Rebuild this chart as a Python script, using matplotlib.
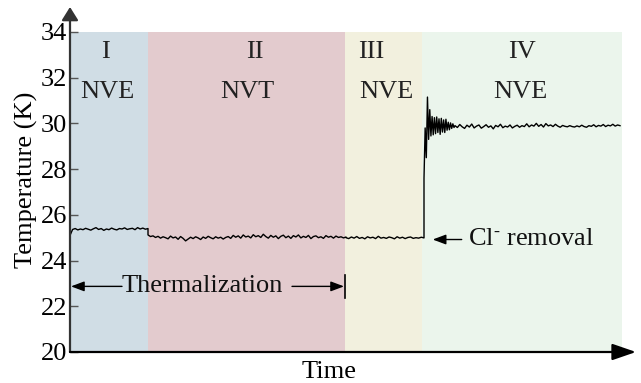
import matplotlib
matplotlib.use("Agg")
import matplotlib.pyplot as plt
import numpy as np

plt.rcParams["font.family"] = ["Liberation Serif", "DejaVu Serif"]
plt.rcParams["mathtext.fontset"] = "custom"
plt.rcParams["mathtext.rm"] = "Liberation Serif"
plt.rcParams["mathtext.default"] = "regular"

# phase boundaries (time, arbitrary units)
phase_bounds = [0, 78, 275, 352, 552]
phase_roman = ["I", "II", "III", "IV"]
phase_mode = ["NVE", "NVT", "NVE", "NVE"]
phase_colors = ["#d0dde5", "#e3cbce", "#f2f0de", "#ebf5ec"]

# temperature trace, one list per stretch
temp_I = [25.10, 25.36, 25.40, 25.34, 25.38, 25.35, 25.41, 25.37, 25.33, 25.39,
          25.44, 25.36, 25.40, 25.32, 25.38, 25.35, 25.42, 25.37, 25.34, 25.40,
          25.38, 25.43, 25.36, 25.39, 25.41, 25.35, 25.44, 25.38, 25.42, 25.37,
          25.40]
temp_II = [25.12, 25.05, 25.08, 25.01, 25.06, 24.98, 25.04, 25.00, 24.95, 25.07,
           24.99, 25.03, 24.93, 25.05, 24.97, 24.86, 24.94, 25.02, 24.96, 25.04,
           24.99, 24.92, 25.03, 24.97, 25.06, 25.00, 24.95, 25.04, 24.98, 25.02,
           24.94, 25.01, 25.05, 24.97, 25.10, 25.02, 25.08, 24.98, 25.12, 25.03,
           25.07, 24.99, 25.13, 25.04, 25.09, 25.01, 25.15, 25.05, 24.98, 25.10,
           25.02, 25.08, 24.96, 25.06, 25.11, 25.00, 25.07, 24.97, 25.09, 25.03,
           25.12, 24.99, 25.06, 25.01, 25.10, 24.96, 25.05, 25.08, 25.00, 25.04,
           24.97, 25.09, 25.02, 25.06, 24.98, 25.07, 25.01, 25.04, 24.99, 25.03]
temp_III = [25.00, 24.96, 25.03, 24.98, 25.05, 24.97, 25.01, 24.95, 25.04, 24.99,
            25.02, 24.96, 25.06, 24.98, 25.01, 24.97, 25.03, 25.00, 24.95, 25.04,
            24.98, 25.02, 24.96, 25.01, 25.03, 24.97, 25.00, 24.98, 25.02, 24.99]
temp_ring = [27.60, 29.80, 28.50, 31.15, 29.30, 30.60, 29.45, 30.30, 29.50, 30.25,
             29.55, 30.28, 29.60, 30.20, 29.52, 30.22, 29.62, 30.15, 29.60, 30.18,
             29.70, 30.05, 29.72, 30.02, 29.78, 29.98, 29.82]
temp_IV = [29.90, 29.82, 29.95, 29.85, 29.78, 29.92, 29.84, 29.97, 29.80, 29.88,
           29.93, 29.79, 29.86, 29.94, 29.83, 29.89, 29.76, 29.91, 29.85, 29.96,
           29.81, 29.88, 29.84, 29.93, 29.80, 29.87, 29.92, 29.83, 29.90, 29.86,
           29.98, 29.85, 29.93, 29.88, 30.00, 29.87, 29.95, 29.84, 29.99, 29.89,
           29.93, 29.86, 29.96, 29.88, 29.83, 29.91, 29.87, 29.85, 29.90, 29.86,
           29.84, 29.89, 29.85, 29.92, 29.86, 29.83, 29.90, 29.87, 29.94, 29.85,
           29.91, 29.88, 29.95, 29.86, 29.92, 29.89, 29.96, 29.88, 29.93, 29.90]
# time spans of each stretch of the trace
trace_spans = [(0, 78), (78, 276), (276, 354), (354, 384), (385, 550)]
removal_time = 354

yticks = [20, 22, 24, 26, 28, 30, 32, 34]

FS = 19

fig = plt.figure(figsize=(6.41, 3.83), dpi=100)
ax = fig.add_axes([70 / 641, 31 / 383, 566 / 641, 345 / 383])
ax.set_xlim(0, 566)
ax.set_ylim(20, 35.09)

for i in range(4):
    ax.fill_between([phase_bounds[i], phase_bounds[i + 1]], 20, 34,
                    color=phase_colors[i], lw=0, zorder=0)

roman_x = [35, 185, 301, 452]
mode_x = [37, 177, 316, 450]
for i in range(4):
    ax.text(roman_x[i], 33.1, phase_roman[i], ha="center", va="center",
            fontsize=FS, color="#222222")
    ax.text(mode_x[i], 31.36, phase_mode[i], ha="center", va="center",
            fontsize=FS, color="#222222")

t_all, T_all = [], []
for seg, (a, b) in zip([temp_I, temp_II, temp_III, temp_ring, temp_IV], trace_spans):
    t_all.extend(np.linspace(a, b, len(seg)))
    T_all.extend(seg)
ax.plot(t_all, T_all, color="black", lw=1.0, zorder=3)

# axes with arrows
for s in ax.spines.values():
    s.set_visible(False)
ax.annotate("", xy=(0, 1), xytext=(0, 0), xycoords="axes fraction",
            arrowprops=dict(arrowstyle="-|>,head_length=0.8,head_width=0.5",
                            color="#333333", lw=1.6, shrinkA=0, shrinkB=0))
ax.annotate("", xy=(1, 0), xytext=(0, 0), xycoords="axes fraction",
            arrowprops=dict(arrowstyle="-|>,head_length=1.45,head_width=0.5",
                            color="black", lw=1.6, shrinkA=0, shrinkB=0))

ax.set_yticks(yticks)
ax.set_xticks([])
ax.tick_params(axis="y", direction="in", length=6, width=1, color="#555555",
               labelsize=FS, pad=2)
ax.set_ylabel("Temperature (K)", fontsize=FS, labelpad=2)
ax.set_xlabel("Time", fontsize=FS)
ax.xaxis.set_label_coords(0.4585, -0.027)

# thermalization annotation
yth = 22.87
ax.text(132.5, yth, "Thermalization", ha="center", va="center", fontsize=FS,
        color="#111111")
arr = dict(arrowstyle="-|>,head_length=0.8,head_width=0.3", color="black",
           lw=1.0, shrinkA=0, shrinkB=0)
ax.annotate("", xy=(1, yth), xytext=(52, yth), arrowprops=arr)
ax.annotate("", xy=(274, yth), xytext=(222, yth), arrowprops=arr)
ax.plot([275, 275], [22.35, 23.35], color="black", lw=1.2)

# Cl- removal
ax.annotate("", xy=(removal_time + 8.7, 24.92), xytext=(391.7, 24.92),
            arrowprops=arr)
ax.text(398, 24.95, r"Cl$^{\text{-}}$ removal", ha="left", va="center",
        fontsize=FS, color="#111111")

fig.savefig("out.png", dpi=100)
